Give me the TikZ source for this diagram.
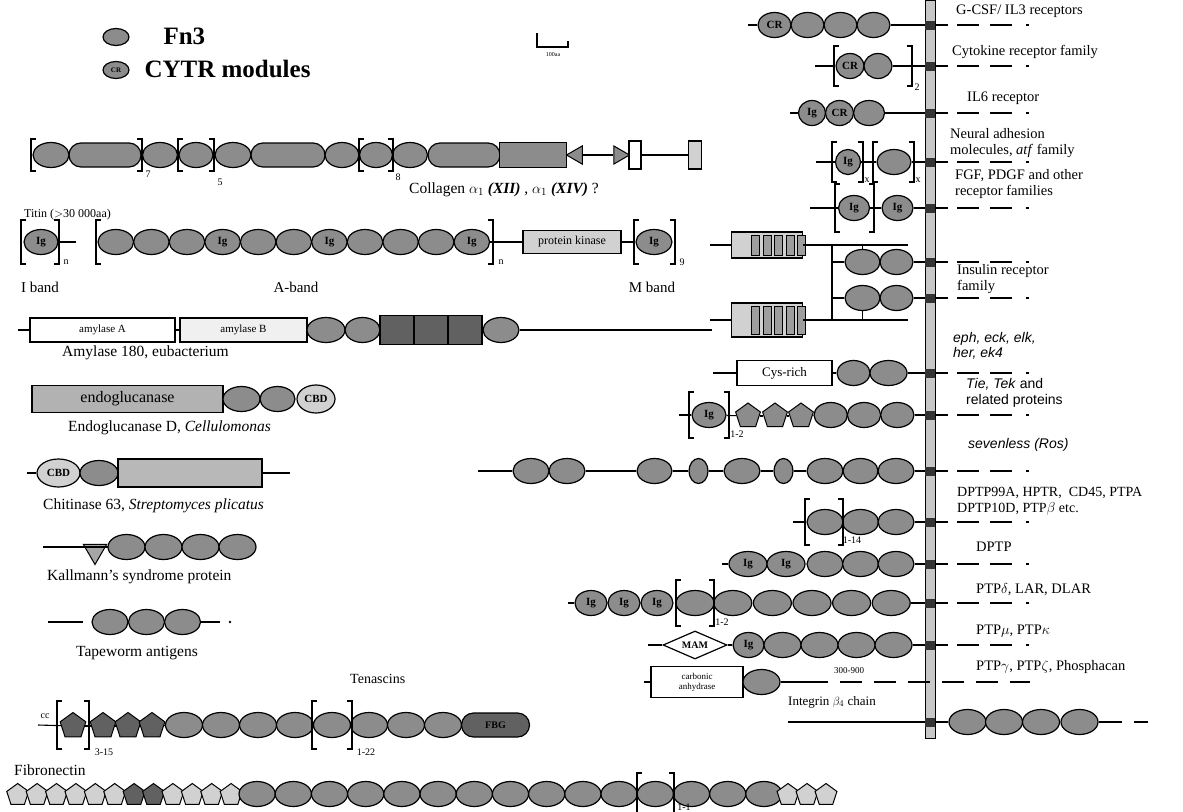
\documentclass[tikz,border=0pt]{standalone}
\usepackage{fontspec}
\setmainfont{Liberation Serif}
\newfontfamily\hfam{Liberation Sans}
\usetikzlibrary{shapes.geometric,shapes.misc}
% bracket pair round a run of modules: left x, right x, centre y, half height
\newcommand{\brkpair}[4]{%
  \draw[brk] ({#1+5},{#3-#4}) -- (#1,{#3-#4}) -- (#1,{#3+#4}) -- ({#1+5},{#3+#4});
  \draw[brk] ({#2-5},{#3-#4}) -- (#2,{#3-#4}) -- (#2,{#3+#4}) -- ({#2-5},{#3+#4});}
\begin{document}
\begin{tikzpicture}[x=1pt, y=-1pt, font=\fontsize{12}{13}\selectfont,
    fn/.style={ellipse, draw=black, line width=1.2pt, fill=fngrey, minimum width=#1, minimum height=25pt, inner sep=0pt, font=\bfseries\fontsize{11}{11}\selectfont},
    fn/.default=34pt,
    pill/.style={rounded rectangle, draw=black, line width=1.2pt, fill=fngrey, minimum width=#1, minimum height=24pt, inner sep=0pt, font=\bfseries\fontsize{10}{10}\selectfont},
    pent/.style={regular polygon, regular polygon sides=5, draw=black, line width=1pt, fill=#1, minimum size=27pt, inner sep=0pt},
    blk/.style={draw=black, line width=1.1pt, fill=#1, minimum height=24pt, inner sep=1pt},
    bb/.style={line width=1.1pt},
    brk/.style={line width=1.4pt},
    brsub/.style={font=\fontsize{10}{10}\selectfont, inner sep=0pt},
    lbl/.style={font=\fontsize{15.5}{17}\selectfont, anchor=west, inner sep=0pt},
    rlbl/.style={font=\fontsize{14.5}{15.5}\selectfont, anchor=west, align=left, inner sep=0pt},
    slbl/.style={font=\hfam\itshape\fontsize{14}{15.5}\selectfont, anchor=west, align=left, inner sep=0pt},
    cyto/.style={line width=1.3pt, dash pattern=on 13pt off 9pt on 22pt off 11pt on 22pt off 14pt on 3pt off 300pt},
    tmx/.style={fill=black!80, minimum width=10pt, minimum height=9pt, inner sep=0pt}]
  \colorlet{fngrey}{black!45}
  \colorlet{fndark}{black!62}
  \colorlet{fnlight}{black!18}
  \fill[white] (0,0) rectangle (1183,811);
  \useasboundingbox (0,0) rectangle (1183,811);
  % ---- legend and scale ------------------------------------------------------
  \node[fn=26pt, minimum height=17pt] (lgfn) at (116,37) {};
  \node[fn=26pt, minimum height=17pt, font=\bfseries\fontsize{7}{7}\selectfont] (lgcr) at (116,70) {CR};
  \node[anchor=west, font=\bfseries\fontsize{25}{25}\selectfont] (lgfntx) at (160,36) {Fn3};
  \node[anchor=west, font=\bfseries\fontsize{25}{25}\selectfont] (lgcrtx) at (141,69) {CYTR modules};
  \draw[line width=2.2pt] (537,33) -- (537,47) -- (568,47) -- (568,41);
  \node[font=\fontsize{6}{6}\selectfont] (scl) at (553,55) {100aa};
  % ---- collagen ------------------------------------------------------------
  \node[fn=36pt] (col1) at (51,155) {};
  \node[pill=72pt] (col2) at (105,155) {};
  \node[fn=35pt] (col3) at (160,155) {};
  \node[fn=34pt] (col4) at (196,155) {};
  \node[fn=36pt] (col5) at (233,155) {};
  \node[pill=74pt] (col6) at (288,155) {};
  \node[fn=34pt] (col7) at (342,155) {};
  \node[fn=33pt] (col8) at (376,155) {};
  \node[fn=35pt] (col9) at (410,155) {};
  \node[pill=72pt] (col10) at (464,155) {};
  \node[chamfered rectangle, chamfered rectangle xsep=12pt, draw=black, line width=1.2pt, fill=fngrey, minimum width=67pt, minimum height=25pt, inner sep=0pt] (col11) at (533,155) {};
  \node[regular polygon, regular polygon sides=3, shape border rotate=90, draw=black, line width=1pt, fill=fngrey, minimum size=21pt, inner sep=0pt] (col12) at (577,155) {};
  \node[regular polygon, regular polygon sides=3, shape border rotate=-90, draw=black, line width=1pt, fill=fngrey, minimum size=21pt, inner sep=0pt] (col13) at (619,155) {};
  \node[blk=white, minimum width=12pt, minimum height=28pt] (col14) at (635,155) {};
  \node[blk=fnlight, minimum width=13pt, minimum height=28pt] (col15) at (695,155) {};
  \draw[bb] (col11) -- (col12);
  \draw[bb] (col12) -- (col13);
  \draw[bb] (col14) -- (col15);
  \brkpair{31}{142}{155}{16}
  \brkpair{178}{214}{155}{16}
  \brkpair{359}{393}{155}{16}
  \node[brsub] (colsb1) at (148,174) {7};
  \node[brsub] (colsb2) at (220,182) {5};
  \node[brsub] (colsb3) at (398,177) {8};
  \node[lbl] (collbl) at (409,190) {Collagen $\alpha_1$ \textbf{\textit{(XII)}} , $\alpha_1$ \textbf{\textit{(XIV)}} ?};
  % ---- titin ---------------------------------------------------------------
  \node[lbl, font=\fontsize{12}{12}\selectfont] (titlbl) at (24,215) {Titin ($>$30 000aa)};
  \node[fn=34pt] (tit0) at (41,242) {Ig};
  \coordinate (titc0) at (76,242);
  \draw[bb] (tit0) -- (titc0);
  \foreach \i/\t in {1/,2/,3/,4/Ig,5/,6/,7/Ig,8/,9/,10/,11/Ig} {
    \node[fn=35.6pt] (tit\i) at ({98+17.8+35.6*(\i-1)},242) {\t};}
  \node[blk=fnlight, minimum width=98pt, minimum height=23pt, font=\fontsize{12}{12}\selectfont] (titpk) at (572,242) {protein kinase};
  \node[fn=36pt] (titm) at (654,242) {Ig};
  \draw[bb] (tit11) -- (titpk);
  \draw[bb] (titpk) -- (titm);
  \brkpair{21}{59}{242}{22}
  \brkpair{96}{493}{242}{22}
  \brkpair{634}{675}{242}{22}
  \node[brsub] (titsb1) at (66,262) {n};
  \node[brsub] (titsb2) at (501,262) {n};
  \node[brsub] (titsb3) at (682,262) {9};
  \node[font=\fontsize{15}{15}\selectfont] (titib) at (40,287) {I band};
  \node[font=\fontsize{15}{15}\selectfont] (titab) at (296,287) {A-band};
  \node[font=\fontsize{15}{15}\selectfont] (titmb) at (652,287) {M band};
  % ---- amylase -------------------------------------------------------------
  \coordinate (amyc0) at (18,330);
  \node[blk=white, minimum width=145pt, font=\fontsize{11}{11}\selectfont] (amyA) at (102.5,330) {amylase A};
  \node[blk=black!6, minimum width=127pt, font=\fontsize{11}{11}\selectfont] (amyB) at (243.5,330) {amylase B};
  \node[fn=38pt] (amy1) at (326,330) {};
  \node[fn=35pt] (amy2) at (362.5,330) {};
  \foreach \i/\x in {1/397,2/431,3/465} {
    \node[blk=fndark, minimum width=34pt, minimum height=29pt] (amyd\i) at (\x,330) {};}
  \node[fn=36pt] (amy3) at (501,330) {};
  \coordinate (amyc1) at (712,330);
  \draw[bb] (amyc0) -- (amyA);
  \draw[bb] (amyA) -- (amyB);
  \draw[bb] (amy3) -- (amyc1);
  \node[lbl] (amylbl) at (62,353) {Amylase 180, eubacterium};
  % ---- endoglucanase -------------------------------------------------------
  \node[blk=black!30, minimum width=191pt, minimum height=27pt, font=\fontsize{16}{16}\selectfont] (egbox) at (127.5,399) {endoglucanase};
  \node[fn=37pt] (eg1) at (241.5,399) {};
  \node[fn=35pt] (eg2) at (277.5,399) {};
  \node[fn=38pt, minimum height=28pt, fill=fnlight] (eg3) at (316,399) {CBD};
  \node[lbl] (eglbl) at (68,428) {Endoglucanase D, \textit{Cellulomonas}};
  % ---- chitinase -----------------------------------------------------------
  \coordinate (chc0) at (27,473);
  \node[fn=43pt, minimum height=28pt, fill=fnlight] (ch1) at (58.5,473) {CBD};
  \node[fn=38pt] (ch2) at (99,473) {};
  \node[blk=black!28, minimum width=144pt, minimum height=28pt] (chbox) at (190,473) {};
  \coordinate (chc1) at (290,473);
  \draw[bb] (chc0) -- (ch1);
  \draw[bb] (chbox) -- (chc1);
  \node[lbl] (chlbl) at (43,506) {Chitinase 63, \textit{Streptomyces plicatus}};
  % ---- Kallmann ------------------------------------------------------------
  \coordinate (kac0) at (43,547);
  \node[regular polygon, regular polygon sides=3, shape border rotate=180, draw=black, line width=1pt, fill=black!35, minimum size=27pt, inner sep=0pt] (ka0) at (95,551) {};
  \foreach \i/\x in {1/126.5,2/163.5,3/200.5,4/237.5} {
    \node[fn=37pt] (ka\i) at (\x,547) {};}
  \draw[bb] (kac0) -- (ka0.corner 2 |- kac0);
  \node[lbl] (kalbl) at (47,577) {Kallmann's syndrome protein};
  % ---- tapeworm ------------------------------------------------------------
  \coordinate (tpc0) at (48,622);
  \coordinate (tpc1) at (83,622);
  \coordinate (tpc2) at (220,622);
  \foreach \i/\x in {1/110,2/146.5,3/182.5} {
    \node[fn=36pt] (tp\i) at (\x,622) {};}
  \node[circle, fill=black, inner sep=0.9pt] (tpdot) at (230,622) {};
  \draw[bb] (tpc0) -- (tpc1);
  \draw[bb] (tp3) -- (tpc2);
  \node[lbl] (tplbl) at (76,653) {Tapeworm antigens};
  % ---- tenascins -----------------------------------------------------------
  \node[lbl, font=\fontsize{14}{14}\selectfont] (tnlbl) at (350,679) {Tenascins};
  \node[font=\fontsize{10}{10}\selectfont] (tncc) at (45,716) {cc};
  \coordinate (tnc0) at (38,725);
  \foreach \i/\x in {1/73,2/103,3/128,4/152} {
    \node[pent=fndark] (tnp\i) at (\x,726) {};}
  \foreach \i/\x in {1/184,2/221,3/258,4/295,5/332,6/369,7/406,8/443} {
    \node[fn=37pt] (tne\i) at (\x,725) {};}
  \node[pill=68pt, fill=fndark] (tnfbg) at (495.5,725) {FBG};
  \foreach \a/\b in {tnc0/tnp1,tnp1/tnp2,tnp2/tnp3,tnp3/tnp4,tnp4/tne1} {
    \draw[bb] (\a) -- (\b);}
  \brkpair{57}{89}{725}{24}
  \brkpair{312}{352}{725}{24}
  \node[brsub] (tnsb1) at (104,752) {3-15};
  \node[brsub] (tnsb2) at (366,752) {1-22};
  % ---- fibronectin ---------------------------------------------------------
  \node[lbl] (fblbl) at (14,770) {Fibronectin};
  \foreach \i in {1,...,12} {
    \ifnum\i=7 \def\fbcol{fndark}\else\ifnum\i=8 \def\fbcol{fndark}\else\def\fbcol{fnlight}\fi\fi
    \node[pent=\fbcol, minimum size=23pt] (fbf\i) at ({8+9.7+19.4*(\i-1)},795) {};}
  \foreach \i in {1,...,15} {
    \node[fn=36.2pt] (fbe\i) at ({239+18.1+36.2*(\i-1)},794) {};}
  \foreach \i/\x in {1/788,2/807,3/826} {
    \node[pent=fnlight, minimum size=23pt] (fbg\i) at (\x,795) {};}
  \brkpair{637}{674}{794}{21}
  \node[brsub] (fbsb) at (684,807) {1-1};
  % ---- membrane -------------------------------------------------------------
  \node[draw=black, line width=0.8pt, fill=black!22, minimum width=10pt, minimum height=738pt, inner sep=0pt, anchor=north] (tmbar) at (930,0) {};
  \foreach \n/\y in {gc/25,cy/66,il/113,na/162,fg/208,in1/262,in2/298,ep/373,ti/415,se/471,da/522,db/564,pd/603,pm/645} {
    \node[tmx] (tm\n) at (930,\y) {};
    \coordinate (ce\n) at (1045,\y);
    \draw[cyto] (tm\n.east) -- (ce\n);}
  % ---- cytokine receptors ---------------------------------------------------
  \coordinate (gcc0) at (748,25);
  \node[fn=33pt] (gc1) at (774.5,25) {CR};
  \foreach \i/\x in {2/807.5,3/840.5,4/873.5} {
    \node[fn=33pt] (gc\i) at (\x,25) {};}
  \draw[bb] (gcc0) -- (gc1);
  \draw[bb] (gc4) -- (tmgc);
  \node[rlbl] (gclbl) at (956,11) {G-CSF/ IL3 receptors};
  \coordinate (cyc0) at (815,66);
  \node[fn=28pt] (cy1) at (850,66) {CR};
  \node[fn=28pt] (cy2) at (878,66) {};
  \draw[bb] (cyc0) -- (cy1);
  \draw[bb] (cy2) -- (tmcy);
  \brkpair{834}{912}{66}{20}
  \node[brsub] (cysb) at (917,87) {2};
  \node[rlbl] (cylbl) at (952,52) {Cytokine receptor family};
  \coordinate (ilc0) at (790,113);
  \node[fn=27pt] (il1) at (812,113) {Ig};
  \node[fn=28pt] (il2) at (839.5,113) {CR};
  \node[fn=31pt] (il3) at (869,113) {};
  \draw[bb] (ilc0) -- (il1);
  \draw[bb] (il3) -- (tmil);
  \node[rlbl] (illbl) at (967,98) {IL6 receptor};
  % ---- neural adhesion / FGF ---------------------------------------------------
  \coordinate (nac0) at (816,162);
  \node[fn=25pt] (na1) at (848,162) {Ig};
  \node[fn=34pt] (na2) at (894,162) {};
  \draw[bb] (nac0) -- (na1);
  \draw[bb] (na1) -- (na2);
  \draw[bb] (na2) -- (tmna);
  \brkpair{832}{863}{162}{20}
  \brkpair{873}{914}{162}{20}
  \node[brsub] (nasb1) at (867,180) {x};
  \node[brsub] (nasb2) at (918,180) {x};
  \node[rlbl] (nalbl) at (950,143) {Neural adhesion\\molecules, \textit{atf} family};
  \coordinate (fgc0) at (810,208);
  \node[fn=31pt] (fg1) at (854,208) {Ig};
  \node[fn=31pt] (fg2) at (897.5,208) {Ig};
  \draw[bb] (fgc0) -- (fg1);
  \draw[bb] (fg1) -- (fg2);
  \draw[bb] (fg2) -- (tmfg);
  \brkpair{835}{874}{208}{24}
  \node[rlbl] (fglbl) at (955,184) {FGF, PDGF and other\\receptor families};
  % ---- insulin receptor -------------------------------------------------------
  \foreach \k/\y/\h in {1/245/26,2/320/34} {
    \node[blk=fnlight, minimum width=71pt, minimum height=\h pt, inner sep=0pt] (insb\k) at (767,\y) {};
    \foreach \j in {1,...,5} {
      \node[draw=black, line width=0.6pt, fill=black!38, minimum width=8pt, minimum height={\h-6}, inner sep=0pt] (insb\k\j) at ({744+11.5*\j},\y) {};}
    \coordinate (insl\k) at (710,\y);
    \coordinate (insr\k) at (908,\y);
    \draw[bb] (insl\k) -- (insb\k);
    \draw[bb] (insb\k) -- (insr\k);}
  \coordinate (insv1) at (832,245);
  \coordinate (insv2) at (832,320);
  \draw[bb] (insv1) -- (insv2);
  \foreach \k/\y in {1/262,2/298} {
    \coordinate (insj\k) at (832,\y);
    \node[fn=35pt] (insa\k) at (862.5,\y) {};
    \node[fn=33pt] (insc\k) at (896.5,\y) {};
    \draw[bb] (insj\k) -- (insa\k);}
  \draw[bb] (insc1) -- (tmin1);
  \draw[bb] (insc2) -- (tmin2);
  \draw[bb] (insa1.north) -- (insa1.north |- insv1);
  \draw[bb] (insa2.south) -- (insa2.south |- insv2);
  \node[rlbl] (inslbl) at (957,279) {Insulin receptor\\family};
  % ---- eph / Tie -------------------------------------------------------------
  \coordinate (epc0) at (713,373);
  \node[blk=white, minimum width=95pt, minimum height=25pt, font=\fontsize{13}{13}\selectfont] (epbox) at (784.5,373) {Cys-rich};
  \node[fn=33pt] (ep1) at (853.5,373) {};
  \node[fn=37pt] (ep2) at (888.5,373) {};
  \draw[bb] (epc0) -- (epbox);
  \draw[bb] (epbox) -- (ep1);
  \draw[bb] (ep2) -- (tmep);
  \node[slbl] (eplbl) at (953,346) {eph, eck, elk,\\her, ek4};
  \coordinate (tic0) at (679,415);
  \node[fn=34pt] (ti0) at (709,415) {Ig};
  \foreach \i/\x in {1/748,2/775,3/801} {
    \node[pent=fngrey, minimum size=26pt] (tip\i) at (\x,416) {};}
  \foreach \i/\x in {1/830.7,2/864,3/897.3} {
    \node[fn=33.3pt] (tie\i) at (\x,415) {};}
  \draw[bb] (tic0) -- (ti0);
  \draw[bb] (ti0) -- (tip1);
  \draw[bb] (tip1) -- (tip2);
  \draw[bb] (tip2) -- (tip3);
  \draw[bb] (tip3) -- (tie1);
  \draw[bb] (tie3) -- (tmti);
  \brkpair{689}{729}{415}{23}
  \node[brsub] (tisb) at (737,434) {1-2};
  \node[slbl, font=\hfam\fontsize{14}{15.5}\selectfont] (tilbl) at (966,393) {\textit{Tie, Tek} and\\related proteins};
  % ---- sevenless -------------------------------------------------------------
  \coordinate (sec0) at (478,471);
  \foreach \i/\x/\w in {1/531/36,2/567/36,3/654.5/35,4/698.5/19,5/742/36,6/783.5/19,7/825/36,8/860.5/35,9/896/36} {
    \node[fn=\w pt] (se\i) at (\x,471) {};}
  \foreach \a/\b in {sec0/se1,se2/se3,se3/se4,se4/se5,se5/se6,se6/se7,se9/tmse} {
    \draw[bb] (\a) -- (\b);}
  \node[slbl] (selbl) at (968,445) {sevenless (Ros)};
  % ---- receptor tyrosine phosphatases --------------------------------------
  \node[rlbl, font=\fontsize{14}{16}\selectfont] (dalbl) at (957,501) {DPTP99A, HPTR, \ CD45, PTPA\\DPTP10D, PTP$\beta$ etc.};
  \coordinate (dac0) at (793,522);
  \foreach \i/\x in {1/825,2/860.5,3/896} {
    \node[fn=36pt] (da\i) at (\x,522) {};}
  \draw[bb] (dac0) -- (da1);
  \draw[bb] (da3) -- (tmda);
  \brkpair{805}{843}{522}{23}
  \node[brsub] (dasb) at (852,540) {1-14};
  \node[rlbl] (dblbl) at (976,547) {DPTP};
  \coordinate (dbc0) at (722,564);
  \node[fn=38pt] (db1) at (748,564) {Ig};
  \node[fn=38pt] (db2) at (786,564) {Ig};
  \foreach \i/\x in {3/825,4/860.5,5/896} {
    \node[fn=36pt] (db\i) at (\x,564) {};}
  \draw[bb] (dbc0) -- (db1);
  \draw[bb] (db5) -- (tmdb);
  \node[rlbl] (pdlbl) at (976,590) {PTP$\delta$, LAR, DLAR};
  \coordinate (pdc0) at (568,603);
  \foreach \i/\x in {1/591,2/624,3/657} {
    \node[fn=32pt] (pd\i) at (\x,603) {Ig};}
  \foreach \i/\x in {4/695,5/732.8,6/772.4,7/812,8/851.6,9/891.2} {
    \node[fn=38pt] (pd\i) at (\x,603) {};}
  \draw[bb] (pdc0) -- (pd1);
  \draw[bb] (pd9) -- (tmpd);
  \brkpair{676}{714}{603}{23}
  \node[brsub] (pdsb) at (722,622) {1-2};
  \node[rlbl] (pmlbl) at (976,631) {PTP$\mu$, PTP$\kappa$};
  \coordinate (pmc0) at (648,645);
  \node[diamond, aspect=2.4, draw=black, line width=1.2pt, fill=white, minimum width=64pt, minimum height=28pt, inner sep=0pt, font=\bfseries\fontsize{10}{10}\selectfont] (pmmam) at (695,645) {MAM};
  \node[fn=31pt] (pm1) at (748.5,645) {Ig};
  \foreach \i/\x in {2/782.5,3/819.5,4/856.5,5/893.5} {
    \node[fn=37pt] (pm\i) at (\x,645) {};}
  \draw[bb] (pmc0) -- (pmmam);
  \draw[bb] (pmmam) -- (pm1);
  \draw[bb] (pm5) -- (tmpm);
  \node[rlbl] (pglbl) at (976,667) {PTP$\gamma$, PTP$\zeta$, Phosphacan};
  \coordinate (cac0) at (644,682);
  \node[blk=white, minimum width=92pt, minimum height=31pt, align=center, font=\fontsize{9}{10}\selectfont] (cabox) at (697,682) {carbonic\\anhydrase};
  \node[fn=37pt] (ca1) at (761.5,682) {};
  \coordinate (cac1) at (806,682);
  \coordinate (cac2) at (1030,682);
  \draw[bb] (cac0) -- (cabox);
  \draw[bb] (ca1) -- (cac1);
  \draw[line width=1.3pt, dash pattern=on 22pt off 12pt] (cac1) -- (cac2);
  \node[font=\fontsize{9}{9}\selectfont] (cast) at (849,671) {300-900};
  % ---- integrin --------------------------------------------------------------
  \node[rlbl, font=\fontsize{13}{13}\selectfont] (itlbl) at (788,702) {Integrin $\beta_4$ chain};
  \coordinate (itc0) at (788,722);
  \node[tmx] (tmit) at (930,722) {};
  \foreach \i/\x in {1/967.5,2/1004,3/1041,4/1079.5} {
    \node[fn=37pt] (it\i) at (\x,722) {};}
  \coordinate (itc1) at (1122,722);
  \coordinate (itc2) at (1134,722);
  \coordinate (itc3) at (1148,722);
  \draw[bb] (itc0) -- (tmit);
  \draw[bb] (tmit) -- (it1);
  \draw[bb] (it4) -- (itc1);
  \draw[line width=1.3pt] (itc2) -- (itc3);
\end{tikzpicture}
\end{document}
